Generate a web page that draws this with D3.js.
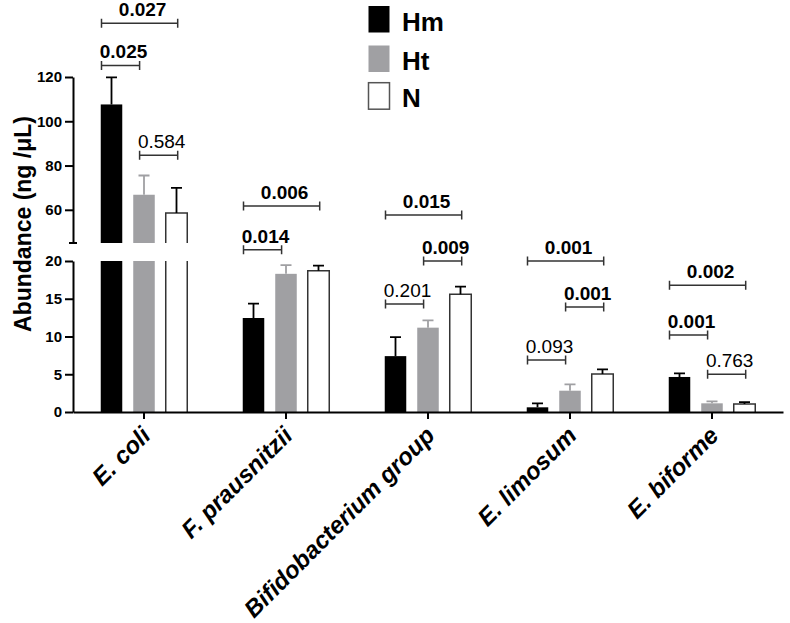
<!DOCTYPE html>
<html><head><meta charset="utf-8">
<script src="https://cdnjs.cloudflare.com/ajax/libs/d3/7.8.5/d3.min.js"></script>
<style>
body{margin:0;background:#fff;}
svg{display:block;font-family:"Liberation Sans",Arial,sans-serif;}
</style></head><body>
<svg id="c" width="790" height="623"></svg>
<script>
const categories = ["E. coli","F. prausnitzii","Bifidobacterium group","E. limosum","E. biforme"];
const groups = ["Hm","Ht","N"];
const meanHm = [107.6, 12.45, 7.4, 0.62, 4.64];
const meanHt = [66.8, 18.3, 11.17, 2.82, 1.15];
const meanN  = [58.5, 18.7, 15.6, 5.03, 1.06];
const errHm  = [12.2, 1.9, 2.53, 0.53, 0.48];
const errHt  = [8.7, 1.15, 0.97, 0.84, 0.27];
const errN   = [11.4, 0.68, 1.0, 0.62, 0.26];
const lowTicks = [0,5,10,15,20];
const highTicks = [60,80,100,120];
// significance brackets: category index, from group, to group, p-value label, bold, height (abundance units on the lower scale)
const bracketCat   = [0,0,0, 1,1, 2,2,2, 3,3,3, 4,4,4];
const bracketFrom  = ["Hm","Hm","Ht", "Hm","Hm", "Hm","Hm","Ht", "Hm","Ht","Hm", "Hm","Hm","Ht"];
const bracketTo    = ["N","Ht","N", "N","Ht", "N","Ht","N", "N","N","Ht", "N","Ht","N"];
const bracketP     = ["0.027","0.025","0.584","0.006","0.014","0.015","0.201","0.009","0.001","0.001","0.093","0.002","0.001","0.763"];
const bracketBold  = [true,true,false,true,true,true,false,true,true,true,false,true,true,false];
const bracketLevel = [51.5,45.9,34.0,27.3,21.5,26.1,14.3,20.0,20.0,13.9,6.9,16.8,10.2,5.0];

const means = [meanHm, meanHt, meanN];
const errs = [errHm, errHt, errN];
const GRAY = "#a0a0a3";
const fills = {Hm:"#000", Ht:GRAY, N:"#fff"};
const strokes = {Hm:"#000", Ht:GRAY, N:"#333"};

const svg = d3.select("#c");
const x0 = d3.scaleBand().domain(categories).range([73,783]).padding(0);
const x1 = d3.scaleBand().domain(groups).range([-48.75,48.75]).paddingInner(0.338).paddingOuter(0.169);
const xb = d3.scalePoint().domain(groups).range([-42.5,33.7]);
const yLow = d3.scaleLinear().domain([0,20]).range([412,261]);
const yHigh = d3.scaleLinear().domain([45,120]).range([243,77]);
const BREAK_LO = 20, BREAK_HI = 45;
function yv(v){ return v <= BREAK_LO ? yLow(v) : (v >= BREAK_HI ? yHigh(v) : yLow(BREAK_LO)); }

// bars
const barData = [];
categories.forEach((c,ci)=>groups.forEach((g,gi)=>barData.push({c,g,v:means[gi][ci],e:errs[gi][ci]})));
const gBars = svg.append("g");
barData.forEach(d=>{
  const xl = x0(d.c) + x0.bandwidth()/2 + x1(d.g);
  const w = x1.bandwidth();
  const segs = [];
  segs.push({a:yLow(0), b:yLow(Math.min(d.v,BREAK_LO)), top: d.v<=BREAK_LO});
  if(d.v > BREAK_HI) segs.push({a:yHigh(BREAK_HI), b:yHigh(d.v), top:true});
  segs.forEach(s=>{
    gBars.append("rect").attr("x",xl).attr("y",s.b).attr("width",w).attr("height",s.a-s.b).attr("fill",fills[d.g]);
    if(d.g==="N"){
      const p = s.top ? `M${xl},${s.a}V${s.b}H${xl+w}V${s.a}` : `M${xl},${s.a}V${s.b}M${xl+w},${s.a}V${s.b}`;
      gBars.append("path").attr("d",p).attr("fill","none").attr("stroke",strokes.N).attr("stroke-width",1.5);
    }
  });
  // error bar (upper only)
  const cx = xl + w/2;
  const y1 = yv(d.v), y2 = yv(d.v + d.e);
  gBars.append("path").attr("d",`M${cx},${y1}V${y2}M${cx-5.5},${y2}H${cx+5.5}`)
    .attr("fill","none").attr("stroke",d.g==="Ht"?GRAY:"#000").attr("stroke-width",1.8);
});

// axes
function styleAxis(g){
  g.select(".domain").attr("stroke","#000").attr("stroke-width",2);
  g.selectAll(".tick line").attr("stroke","#000").attr("stroke-width",2);
  g.selectAll(".tick text").attr("font-size",15).attr("font-weight","bold").attr("fill","#000")
    .attr("font-family","'Liberation Sans',Arial,sans-serif");
}
svg.append("g").attr("transform","translate(73,0)")
  .call(d3.axisLeft(yLow).tickValues(lowTicks).tickSize(8).tickSizeOuter(0).tickPadding(3))
  .call(styleAxis);
svg.append("g").attr("transform","translate(73,0)")
  .call(d3.axisLeft(yHigh).tickValues(highTicks).tickSize(8).tickSizeOuter(0).tickPadding(3))
  .call(styleAxis);
svg.append("line").attr("x1",69).attr("x2",77).attr("y1",yHigh(BREAK_HI)).attr("y2",yHigh(BREAK_HI))
  .attr("stroke","#000").attr("stroke-width",2);

const xAxis = svg.append("g").attr("transform",`translate(0,${yLow(0)})`)
  .call(d3.axisBottom(x0).tickSize(7).tickSizeOuter(0).tickPadding(10));
xAxis.select(".domain").attr("stroke","#000").attr("stroke-width",2);
xAxis.selectAll(".tick line").attr("stroke","#000").attr("stroke-width",2);
xAxis.selectAll(".tick text")
  .attr("font-size",24).attr("font-weight","bold").attr("font-style","italic").attr("fill","#000")
  .attr("font-family","'Liberation Sans',Arial,sans-serif")
  .attr("text-anchor","end").attr("dy",0)
  .attr("transform","translate(8,25) rotate(-45)").attr("y",0).attr("x",0);

// y label
svg.append("text").attr("transform","translate(31,224) rotate(-90)")
  .attr("text-anchor","middle").attr("font-size",23).attr("font-weight","bold").attr("fill","#000")
  .text("Abundance (ng /μL)");

// brackets
const gBr = svg.append("g");
bracketP.forEach((p,i)=>{
  const c = categories[bracketCat[i]];
  const cx = x0(c) + x0.bandwidth()/2;
  const xa = cx + xb(bracketFrom[i]), xz = cx + xb(bracketTo[i]);
  const y = yLow(bracketLevel[i]);
  gBr.append("path").attr("d",`M${xa},${y-4.5}V${y+4.5}M${xa},${y}H${xz}M${xz},${y-4.5}V${y+4.5}`)
    .attr("fill","none").attr("stroke","#333").attr("stroke-width",1.5);
  gBr.append("text").attr("x",(xa+xz)/2+3).attr("y",y-7).attr("text-anchor","middle")
    .attr("font-size",19).attr("font-weight",bracketBold[i]?"bold":"normal").attr("fill","#000").text(p);
});

// legend
const lg = svg.append("g");
const legY = [6, 45.5, 82.7];
groups.forEach((g,i)=>{
  lg.append("rect").attr("x",368.5).attr("y",legY[i]).attr("width",21).attr("height",26.5)
    .attr("fill",fills[g]).attr("stroke",g==="N"?"#555":"none").attr("stroke-width",1.5);
  lg.append("text").attr("x",402).attr("y",legY[i]+24.5).attr("font-size",26).attr("font-weight","bold")
    .attr("fill","#000").text(g);
});
</script>
</body></html>
